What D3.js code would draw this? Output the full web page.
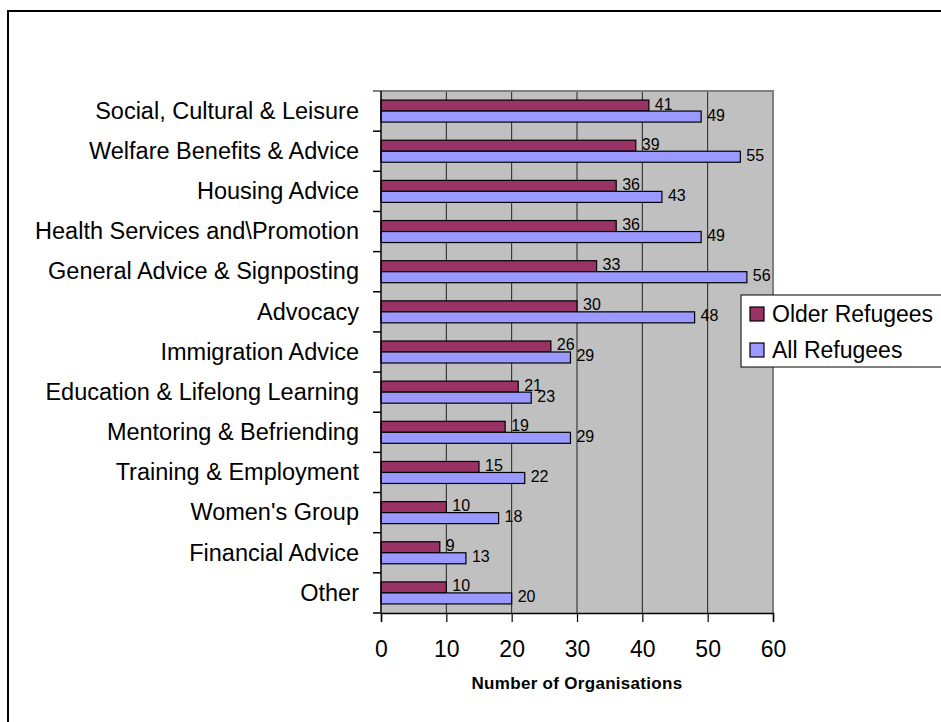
<!DOCTYPE html>
<html>
<head>
<meta charset="utf-8">
<script src="https://cdn.jsdelivr.net/npm/d3@7"></script>
<style>
  html, body { margin: 0; padding: 0; background: #fff; }
  svg { display: block; font-family: "Liberation Sans", Arial, sans-serif; }
</style>
</head>
<body>
<svg id="chart" width="941" height="722"></svg>
<script>
const categories = [
  "Social, Cultural & Leisure",
  "Welfare Benefits & Advice",
  "Housing Advice",
  "Health Services and\\Promotion",
  "General Advice & Signposting",
  "Advocacy",
  "Immigration Advice",
  "Education & Lifelong Learning",
  "Mentoring & Befriending",
  "Training & Employment",
  "Women's Group",
  "Financial Advice",
  "Other"
];
const seriesNames = ["Older Refugees", "All Refugees"];
const olderRefugees = [41, 39, 36, 36, 33, 30, 26, 21, 19, 15, 10, 9, 10];
const allRefugees = [49, 55, 43, 49, 56, 48, 29, 23, 29, 22, 18, 13, 20];
const xTicks = [0, 10, 20, 30, 40, 50, 60];
const xTitle = "Number of Organisations";
const colors = ["#993366", "#9999FF"];

const svg = d3.select("#chart");
const W = 941, H = 722;

// outer chart border
svg.append("rect")
  .attr("x", 8).attr("y", 11)
  .attr("width", W + 50).attr("height", H + 50)
  .attr("fill", "#fff").attr("stroke", "#000").attr("stroke-width", 2);

const plot = { left: 381, right: 773, top: 91, bottom: 613 };

const x = d3.scaleLinear().domain([0, 60]).range([plot.left, plot.right]);
const y = d3.scaleBand().domain(categories).range([plot.top, plot.bottom]).padding(0);
const ySub = d3.scaleBand().domain(seriesNames).range([0, y.bandwidth()])
  .paddingInner(0).paddingOuter(0.825);

// plot background
svg.append("rect")
  .attr("x", plot.left).attr("y", plot.top)
  .attr("width", plot.right - plot.left).attr("height", plot.bottom - plot.top)
  .attr("fill", "#C0C0C0");

// gridlines
svg.append("g").selectAll("line")
  .data(xTicks.filter(d => d > 0 && d < 60))
  .join("line")
  .attr("x1", d => x(d)).attr("x2", d => x(d))
  .attr("y1", plot.top).attr("y2", plot.bottom)
  .attr("stroke", "#222").attr("stroke-width", 1);

// plot border top/right (gray)
svg.append("path")
  .attr("d", `M${plot.left - 8},${plot.top}H${plot.right}V${plot.bottom}`)
  .attr("fill", "none").attr("stroke", "#808080").attr("stroke-width", 2);

// bars
const data = categories.map((c, i) => ({ cat: c, values: [olderRefugees[i], allRefugees[i]] }));
const groups = svg.append("g").selectAll("g")
  .data(data).join("g")
  .attr("transform", d => `translate(0,${y(d.cat)})`);

groups.selectAll("rect")
  .data(d => d.values.map((v, j) => ({ name: seriesNames[j], v, j })))
  .join("rect")
  .attr("x", x(0))
  .attr("y", d => ySub(d.name))
  .attr("width", d => x(d.v) - x(0))
  .attr("height", ySub.bandwidth())
  .attr("fill", d => colors[d.j])
  .attr("stroke", "#000").attr("stroke-width", 1.2);

groups.selectAll("text")
  .data(d => d.values.map((v, j) => ({ name: seriesNames[j], v, j })))
  .join("text")
  .attr("x", d => x(d.v) + 6)
  .attr("y", d => ySub(d.name) + ySub.bandwidth() / 2 + 4)
  .attr("font-size", 16)
  .attr("fill", "#000")
  .text(d => d.v);

// y axis
const yAxis = svg.append("g").attr("transform", `translate(${plot.left},0)`)
  .call(d3.axisLeft(y).tickSize(0).tickPadding(22));
yAxis.select(".domain").remove();
yAxis.selectAll("text")
  .attr("font-size", 23.5).attr("font-family", "Liberation Sans, Arial, sans-serif")
  .attr("fill", "#000").attr("dy", "0.33em");
// axis line and boundary ticks
svg.append("line")
  .attr("x1", plot.left).attr("x2", plot.left)
  .attr("y1", plot.top).attr("y2", plot.bottom)
  .attr("stroke", "#000").attr("stroke-width", 1.5);
svg.append("g").selectAll("line")
  .data(d3.range(1, categories.length + 1))
  .join("line")
  .attr("x1", plot.left - 8).attr("x2", plot.left)
  .attr("y1", i => plot.top + i * y.step()).attr("y2", i => plot.top + i * y.step())
  .attr("stroke", "#000").attr("stroke-width", 1.5);

// x axis
const xAxis = svg.append("g").attr("transform", `translate(0,${plot.bottom})`)
  .call(d3.axisBottom(x).tickValues(xTicks).tickSize(9).tickPadding(19).tickFormat(d3.format("d")));
xAxis.select(".domain").attr("stroke", "#000").attr("stroke-width", 1.5);
xAxis.selectAll(".tick line").attr("stroke", "#000").attr("stroke-width", 1.2);
xAxis.selectAll("text")
  .attr("font-size", 23).attr("font-family", "Liberation Sans, Arial, sans-serif")
  .attr("fill", "#000");

svg.append("text")
  .attr("x", (plot.left + plot.right) / 2)
  .attr("y", 689)
  .attr("text-anchor", "middle")
  .attr("font-size", 17)
  .attr("font-weight", "bold")
  .attr("letter-spacing", 0.3)
  .text(xTitle);

// legend
const legend = svg.append("g");
legend.append("rect")
  .attr("x", 741).attr("y", 295).attr("width", 210).attr("height", 72)
  .attr("fill", "#fff").attr("stroke", "#000").attr("stroke-width", 1);
const legendY = d3.scaleBand().domain(seriesNames).range([297, 369]);
const li = legend.selectAll("g.item").data(seriesNames).join("g").attr("class", "item")
  .attr("transform", d => `translate(0,${legendY(d) + legendY.bandwidth() / 2 - 1})`);
li.append("rect")
  .attr("x", 750).attr("y", -7).attr("width", 14).attr("height", 14)
  .attr("fill", (d, i) => colors[i]).attr("stroke", "#000").attr("stroke-width", 1.2);
li.append("text")
  .attr("x", 772).attr("y", 8)
  .attr("font-size", 23)
  .attr("fill", "#000")
  .text(d => d);
</script>
</body>
</html>
